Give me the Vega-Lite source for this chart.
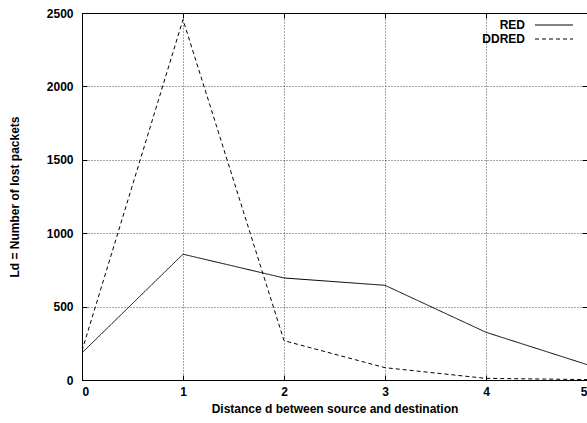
{
  "$schema": "https://vega.github.io/schema/vega-lite/v6.json",
  "width": 505,
  "height": 367,
  "autosize": {"type": "none"},
  "padding": {"left": 82, "top": 13, "right": 0, "bottom": 43},
  "background": "white",
  "data": {
    "values": [
      {"d": 0, "series": "RED", "lost": 185},
      {"d": 1, "series": "RED", "lost": 857},
      {"d": 2, "series": "RED", "lost": 695},
      {"d": 3, "series": "RED", "lost": 645},
      {"d": 4, "series": "RED", "lost": 325},
      {"d": 5, "series": "RED", "lost": 105},
      {"d": 0, "series": "DDRED", "lost": 200},
      {"d": 1, "series": "DDRED", "lost": 2455},
      {"d": 2, "series": "DDRED", "lost": 268},
      {"d": 3, "series": "DDRED", "lost": 84},
      {"d": 4, "series": "DDRED", "lost": 11},
      {"d": 5, "series": "DDRED", "lost": 3}
    ]
  },
  "layer": [
    {
      "mark": {"type": "line", "color": "black", "strokeWidth": 1, "clip": true},
      "encoding": {
        "x": {
          "field": "d", "type": "quantitative",
          "scale": {"domain": [0, 5], "nice": false, "zero": false},
          "axis": {"orient": "bottom", "values": [0, 1, 2, 3, 4, 5], "format": "d", "title": "Distance d between source and destination", "tickSize": -5, "labelPadding": 11, "titlePadding": 6}
        },
        "y": {
          "field": "lost", "type": "quantitative",
          "scale": {"domain": [0, 2500], "nice": false},
          "axis": {"orient": "left", "values": [0, 500, 1000, 1500, 2000, 2500], "format": "d", "title": "Ld = Number of lost packets", "tickSize": -5, "labelPadding": 14, "titlePadding": 25}
        },
        "strokeDash": {
          "field": "series", "type": "nominal",
          "scale": {"domain": ["RED", "DDRED"], "range": [[1, 0], [4, 3]]},
          "legend": {
            "orient": "none", "legendX": 465, "legendY": 5, "title": null,
            "symbolType": "M-3,0H3", "symbolSize": 160, "symbolStrokeColor": "black", "symbolStrokeWidth": 1,
            "labelAlign": "right", "labelOffset": -36, "labelFontSize": 12, "labelFontWeight": "bold", "labelColor": "black",
            "rowPadding": 1, "padding": 0, "labelLimit": 200
          }
        }
      }
    },
    {
      "mark": {"type": "line", "opacity": 0},
      "encoding": {
        "x": {"field": "d", "type": "quantitative", "scale": {"domain": [0, 5], "nice": false, "zero": false},
          "axis": {"orient": "top", "values": [0, 1, 2, 3, 4, 5], "labels": false, "title": null, "grid": false, "tickSize": -5}},
        "y": {"field": "lost", "type": "quantitative", "scale": {"domain": [0, 2500], "nice": false},
          "axis": {"orient": "right", "values": [0, 500, 1000, 1500, 2000, 2500], "labels": false, "title": null, "grid": false, "tickSize": -5}},
        "detail": {"field": "series"}
      }
    }
  ],
  "resolve": {"axis": {"x": "independent", "y": "independent"}},
  "config": {
    "font": "Liberation Sans",
    "view": {"stroke": "black", "strokeWidth": 1},
    "axis": {
      "domainColor": "black", "domainWidth": 1,
      "tickColor": "black", "tickWidth": 1,
      "labelFont": "Liberation Sans", "labelFontSize": 12, "labelFontWeight": "bold", "labelColor": "black",
      "titleFont": "Liberation Sans", "titleFontSize": 12, "titleFontWeight": "bold", "titleColor": "black",
      "grid": true, "gridColor": "black", "gridDash": [1, 2], "gridWidth": 1, "gridOpacity": 0.7
    },
    "legend": {"labelFont": "Liberation Sans"}
  }
}
